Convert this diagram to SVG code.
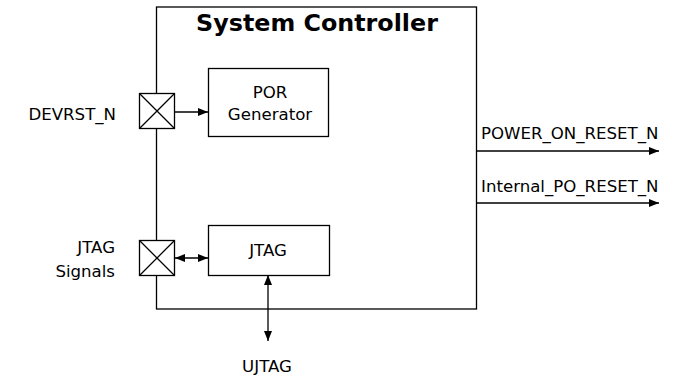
<svg xmlns="http://www.w3.org/2000/svg" width="699" height="377" viewBox="0 0 699 377">
<style>
  .ln { stroke: #000; stroke-width: 1.3; fill: none; }
  .box { stroke: #000; stroke-width: 1.3; fill: #fff; }
  .t { font-family: "DejaVu Sans", Verdana, sans-serif; font-size: 16.6px; fill: #000; }
  .title { font-family: "DejaVu Sans", Verdana, sans-serif; font-size: 23.8px; font-weight: bold; fill: #000; }
</style>
<defs>
  <marker id="ah" viewBox="0 0 10 8" refX="10" refY="4" markerWidth="10" markerHeight="8" markerUnits="userSpaceOnUse" orient="auto-start-reverse">
    <path d="M0,0 L10,4 L0,8 Z" fill="#000"/>
  </marker>
</defs>
<rect width="699" height="377" fill="#fff"/>
<g id="system-controller">
  <rect class="ln" x="156.5" y="7" width="320" height="302"/>
  <text class="title" x="317" y="31" text-anchor="middle">System Controller</text>
</g>
<g id="connectors">
  <line class="ln" x1="175" y1="112" x2="208" y2="112" marker-end="url(#ah)"/>
  <line class="ln" x1="175" y1="258" x2="208" y2="258" marker-start="url(#ah)" marker-end="url(#ah)"/>
  <line class="ln" x1="268" y1="275" x2="268" y2="341" marker-start="url(#ah)" marker-end="url(#ah)"/>
  <line class="ln" x1="476.5" y1="151" x2="659" y2="151" marker-end="url(#ah)"/>
  <line class="ln" x1="476.5" y1="203" x2="659" y2="203" marker-end="url(#ah)"/>
</g>
<g id="devrst-pad">
  <rect class="box" x="139.5" y="93.5" width="35" height="35"/>
  <path class="ln" d="M139.5,93.5 L174.5,128.5 M174.5,93.5 L139.5,128.5"/>
  <text class="t" x="116" y="120" text-anchor="end">DEVRST_N</text>
</g>
<g id="jtag-pad">
  <rect class="box" x="139.5" y="240.5" width="35" height="35"/>
  <path class="ln" d="M139.5,240.5 L174.5,275.5 M174.5,240.5 L139.5,275.5"/>
  <text class="t" x="115" y="253" text-anchor="end">JTAG</text>
  <text class="t" x="115" y="277" text-anchor="end">Signals</text>
</g>
<g id="por-generator">
  <rect class="box" x="208.5" y="68.5" width="120" height="68"/>
  <text class="t" x="270" y="97.5" text-anchor="middle">POR</text>
  <text class="t" x="270" y="120" text-anchor="middle">Generator</text>
</g>
<g id="jtag">
  <rect class="box" x="208.5" y="225.5" width="121" height="50"/>
  <text class="t" x="268" y="256" text-anchor="middle">JTAG</text>
</g>
<g id="labels">
  <text class="t" x="267" y="372" text-anchor="middle">UJTAG</text>
  <text class="t" x="481" y="139">POWER_ON_RESET_N</text>
  <text class="t" x="481" y="192">Internal_PO_RESET_N</text>
</g>
</svg>
